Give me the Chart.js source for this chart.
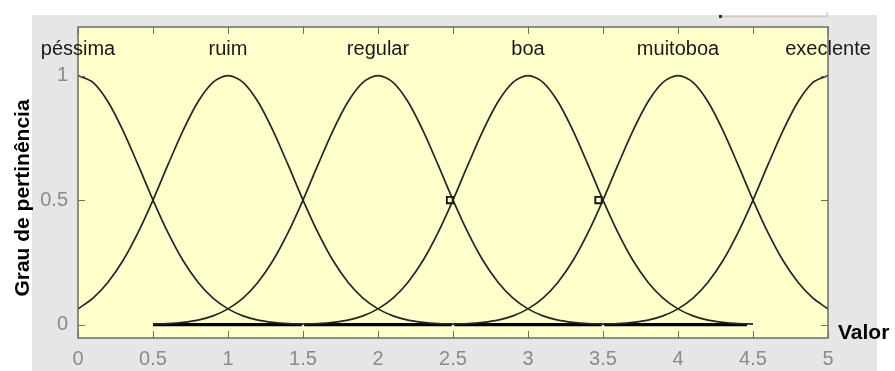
<!DOCTYPE html>
<html>
<head>
<meta charset="utf-8">
<script src="https://cdn.jsdelivr.net/npm/chart.js@4"></script>
<style>
  body { margin: 0; background: #ffffff; }
  canvas { display: block; }
</style>
</head>
<body>
<canvas id="mfChart" width="895" height="371"></canvas>
<script>
// x values where the membership curves were read (step 0.1)
var xValues = [0, 0.1, 0.2, 0.3, 0.4, 0.5, 0.6, 0.7, 0.8, 0.9,
    1, 1.1, 1.2, 1.3, 1.4, 1.5, 1.6, 1.7, 1.8, 1.9,
    2, 2.1, 2.2, 2.3, 2.4, 2.5, 2.6, 2.7, 2.8, 2.9,
    3, 3.1, 3.2, 3.3, 3.4, 3.5, 3.6, 3.7, 3.8, 3.9,
    4, 4.1, 4.2, 4.3, 4.4, 4.5, 4.6, 4.7, 4.8, 4.9, 5];

// null = no visible curve there (it lies on the zero line)
var N = null;
var pessima = [1, .973, .895, .779, .642, .5, .369, .257, .17, .106,
    .063, .035, .018, .009, .004, .002, N, N, N, N,
    N, N, N, N, N, N, N, N, N, N,
    N, N, N, N, N, N, N, N, N, N,
    N, N, N, N, N, N, N, N, N, N, N];
var ruim = [.063, .106, .17, .257, .369, .5, .642, .779, .895, .973,
    1, .973, .895, .779, .642, .5, .369, .257, .17, .106,
    .063, .035, .018, .009, .004, .002, N, N, N, N,
    N, N, N, N, N, N, N, N, N, N,
    N, N, N, N, N, N, N, N, N, N, N];
var regular = [N, N, N, N, N, .002, .004, .009, .018, .035,
    .063, .106, .17, .257, .369, .5, .642, .779, .895, .973,
    1, .973, .895, .779, .642, .5, .369, .257, .17, .106,
    .063, .035, .018, .009, .004, .002, N, N, N, N,
    N, N, N, N, N, N, N, N, N, N, N];
var boa = [N, N, N, N, N, N, N, N, N, N,
    N, N, N, N, N, .002, .004, .009, .018, .035,
    .063, .106, .17, .257, .369, .5, .642, .779, .895, .973,
    1, .973, .895, .779, .642, .5, .369, .257, .17, .106,
    .063, .035, .018, .009, .004, .002, N, N, N, N, N];
var muitoboa = [N, N, N, N, N, N, N, N, N, N,
    N, N, N, N, N, N, N, N, N, N,
    N, N, N, N, N, .002, .004, .009, .018, .035,
    .063, .106, .17, .257, .369, .5, .642, .779, .895, .973,
    1, .973, .895, .779, .642, .5, .369, .257, .17, .106, .063];
var execlente = [N, N, N, N, N, N, N, N, N, N,
    N, N, N, N, N, N, N, N, N, N,
    N, N, N, N, N, N, N, N, N, N,
    N, N, N, N, N, .002, .004, .009, .018, .035,
    .063, .106, .17, .257, .369, .5, .642, .779, .895, .973, 1];

// term names and the x where each name is written (its peak)
var termNames = ['péssima', 'ruim', 'regular', 'boa', 'muitoboa', 'execlente'];
var termCenters = [0, 1, 2, 3, 4, 5];
var termLabelY = 1.105;

// thick segments on the zero line
var barStart = [0.5, 1.508, 2.508, 3.508];
var barEnd = [1.492, 2.492, 3.492, 4.46];

// small square markers near the 0.5 crossings
var markX = [2.48, 3.47];
var markY = [0.5, 0.5];

var xTicks = [0, 0.5, 1, 1.5, 2, 2.5, 3, 3.5, 4, 4.5, 5];
var yTicks = [0, 0.5, 1];

function toPoints(xs, ys) {
    return xs.map(function (x, i) { return { x: x, y: ys[i] }; });
}

var barPoints = [];
barStart.forEach(function (s, i) {
    barPoints.push({ x: s, y: 0 });
    barPoints.push({ x: barEnd[i], y: 0 });
    barPoints.push({ x: barEnd[i] + 0.001, y: null });
});

var curves = [pessima, ruim, regular, boa, muitoboa, execlente];
var datasets = curves.map(function (ys, i) {
    return {
        label: termNames[i],
        data: toPoints(xValues, ys),
        borderColor: '#262626',
        borderWidth: 1.7,
        pointRadius: 0,
        tension: 0.3,
        spanGaps: false,
        fill: false
    };
});
datasets.push({
    label: 'base',
    data: barPoints,
    borderColor: '#000000',
    borderWidth: 3.2,
    borderCapStyle: 'butt',
    pointRadius: 0,
    spanGaps: false,
    fill: false
});
datasets.push({
    label: 'marks',
    data: toPoints(markX, markY),
    showLine: false,
    pointStyle: 'rect',
    pointRadius: 4.5,
    pointBackgroundColor: 'rgba(0,0,0,0)',
    pointBorderColor: '#111111',
    pointBorderWidth: 1.8
});

var backdrop = {
    id: 'backdrop',
    beforeDraw: function (chart) {
        var c = chart.ctx, a = chart.chartArea;
        c.save();
        c.fillStyle = '#ffffff';
        c.fillRect(0, 0, chart.width, chart.height);
        c.fillStyle = '#e6e6e6';
        c.fillRect(32, 15, 845, chart.height - 15);
        c.fillStyle = '#ffffcc';
        c.fillRect(a.left, a.top, a.right - a.left, a.bottom - a.top);
        // thin strip at the top right
        c.strokeStyle = '#cfcac4';
        c.lineWidth = 1.5;
        c.beginPath();
        c.moveTo(720, 16.5);
        c.lineTo(827, 16.5);
        c.lineTo(827, 12);
        c.stroke();
        c.fillStyle = '#333333';
        c.fillRect(719, 15, 3, 3);
        c.restore();
    },
    afterDraw: function (chart) {
        var c = chart.ctx, a = chart.chartArea;
        var xs = chart.scales.x, ys = chart.scales.y;
        c.save();
        // box
        c.strokeStyle = '#6e6e66';
        c.lineWidth = 1.5;
        c.strokeRect(a.left, a.top, a.right - a.left, a.bottom - a.top);
        // inner ticks
        c.beginPath();
        xTicks.forEach(function (v) {
            var px = Math.round(xs.getPixelForValue(v)) + 0.5;
            c.moveTo(px, a.bottom); c.lineTo(px, a.bottom - 7);
            c.moveTo(px, a.top); c.lineTo(px, a.top + 7);
        });
        yTicks.forEach(function (v) {
            var py = Math.round(ys.getPixelForValue(v)) + 0.5;
            c.moveTo(a.left, py); c.lineTo(a.left + 7, py);
            c.moveTo(a.right, py); c.lineTo(a.right - 7, py);
        });
        c.lineWidth = 1;
        c.stroke();
        // term names
        c.fillStyle = '#1a1a1a';
        c.font = '20px "Liberation Sans", Arial, sans-serif';
        c.textAlign = 'center';
        c.textBaseline = 'middle';
        termNames.forEach(function (name, i) {
            c.fillText(name, xs.getPixelForValue(termCenters[i]), ys.getPixelForValue(termLabelY));
        });
        // axis titles
        c.fillStyle = '#000000';
        c.font = 'bold 21px "Liberation Sans", Arial, sans-serif';
        c.textAlign = 'left';
        c.fillText('Valor', 838, 333);
        c.translate(23, 198);
        c.rotate(-Math.PI / 2);
        c.textAlign = 'center';
        c.fillText('Grau de pertinência', 0, 0);
        c.restore();
    }
};

function plainTick(v) { return String(v); }

new Chart(document.getElementById('mfChart').getContext('2d'), {
    type: 'line',
    data: { datasets: datasets },
    options: {
        responsive: false,
        animation: false,
        layout: { padding: { left: 0, top: 27, right: 67, bottom: 0 } },
        plugins: { legend: { display: false }, tooltip: { enabled: false } },
        scales: {
            x: {
                type: 'linear',
                min: 0,
                max: 5,
                afterBuildTicks: function (scale) {
                    scale.ticks = xTicks.map(function (v) { return { value: v }; });
                },
                afterFit: function (scale) { scale.height = 33; },
                grid: { display: false, drawTicks: false },
                border: { display: false },
                ticks: {
                    color: '#8a8a8a',
                    padding: 9,
                    maxRotation: 0,
                    autoSkip: false,
                    callback: plainTick,
                    font: { family: '"Liberation Sans", Arial, sans-serif', size: 20 }
                }
            },
            y: {
                type: 'linear',
                min: -0.054,
                max: 1.195,
                afterBuildTicks: function (scale) {
                    scale.ticks = yTicks.map(function (v) { return { value: v }; });
                },
                afterFit: function (scale) { scale.width = 78; },
                grid: { display: false, drawTicks: false },
                border: { display: false },
                ticks: {
                    color: '#8a8a8a',
                    padding: 10,
                    autoSkip: false,
                    callback: plainTick,
                    font: { family: '"Liberation Sans", Arial, sans-serif', size: 20 }
                }
            }
        }
    },
    plugins: [backdrop]
});
</script>
</body>
</html>
